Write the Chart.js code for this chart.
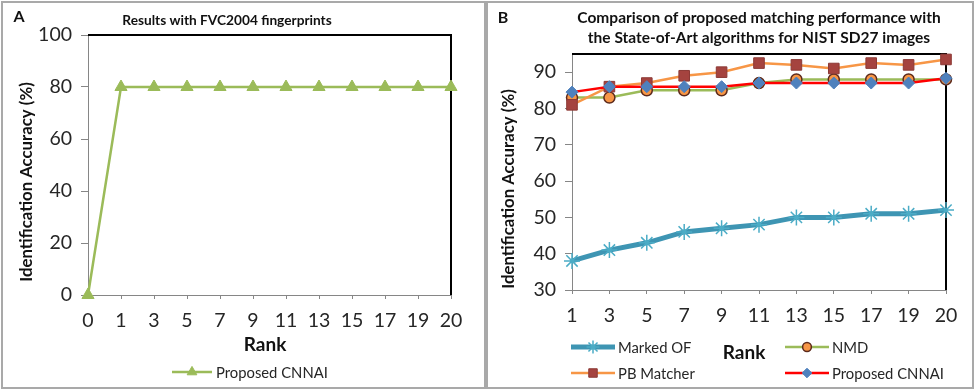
<!DOCTYPE html>
<html>
<head>
<meta charset="utf-8">
<script src="https://cdn.jsdelivr.net/npm/chart.js@4/dist/chart.umd.min.js"></script>
<style>
  html, body { margin: 0; padding: 0; background: #fff; }
  body { width: 976px; height: 391px; position: relative; overflow: hidden; }
  .panel { position: absolute; box-sizing: border-box; border: 2px solid #a9a9a9; background: #fff; }
  #pA { left: 1px; top: 1px; width: 485px; height: 388px; }
  #pB { left: 486px; top: 1px; width: 488px; height: 388px; }
  canvas { position: absolute; left: 0; top: 0; }
</style>
</head>
<body>
<div class="panel" id="pA"><canvas id="cA" width="481" height="384"></canvas></div>
<div class="panel" id="pB"><canvas id="cB" width="484" height="384"></canvas></div>
<script>
// ---------- DATA ----------
const ranksA = ['0', '1', '3', '5', '7', '9', '11', '13', '15', '17', '19', '20'];
const proposedA = [0, 80, 80, 80, 80, 80, 80, 80, 80, 80, 80, 80];
const yTicksA = [0, 20, 40, 60, 80, 100];

const ranksB = ['1', '3', '5', '7', '9', '11', '13', '15', '17', '19', '20'];
const markedOF = [38, 41, 43, 46, 47, 48, 50, 50, 51, 51, 52];
const nmd = [83, 83, 85, 85, 85, 87, 88, 88, 88, 88, 88];
const pbMatcher = [81, 86, 87, 89, 90, 92.5, 92, 91, 92.5, 92, 93.5];
const proposedB = [84.5, 86, 86, 86, 86, 87, 87, 87, 87, 87, 88.3];
const yTicksB = [30, 40, 50, 60, 70, 80, 90];

const titleA = 'Results with FVC2004 fingerprints';
const titleB = ['Comparison of proposed matching performance with', 'the State-of-Art algorithms for NIST SD27 images'];
const yTitle = 'Identification Accuracy (%)';
const xTitle = 'Rank';

// ---------- STYLE ----------
const FONT = 'Lato, "Open Sans", sans-serif';
Chart.defaults.font.family = FONT;
Chart.defaults.color = '#262626';

function drawMarker(ctx, style, x, y, radius, fill, stroke, bw) {
  ctx.save();
  ctx.fillStyle = fill; ctx.strokeStyle = stroke; ctx.lineWidth = bw;
  if (Chart.helpers && Chart.helpers.drawPoint) {
    Chart.helpers.drawPoint(ctx, { pointStyle: style, radius: radius, rotation: 0, borderWidth: bw }, x, y);
  }
  ctx.restore();
}

const decor = {
  id: 'decor',
  beforeDatasetsDraw(chart, args, o) {
    const a = chart.chartArea, ctx = chart.ctx;
    ctx.save();
    ctx.strokeStyle = '#000'; ctx.lineWidth = 2;
    ctx.beginPath();
    ctx.moveTo(a.left, a.top); ctx.lineTo(a.right, a.top); ctx.lineTo(a.right, a.bottom);
    ctx.stroke();
    ctx.restore();
  },
  afterDraw(chart, args, o) {
    const ctx = chart.ctx;
    ctx.save();
    ctx.fillStyle = '#111';
    ctx.font = 'bold 16px ' + FONT;
    ctx.textAlign = 'center'; ctx.textBaseline = 'middle';
    ctx.fillText(o.letter, o.letterX, o.letterY);
    // y title
    ctx.save();
    ctx.translate(o.yTitleX, o.yTitleY);
    ctx.rotate(-Math.PI / 2);
    ctx.font = 'bold 16.8px ' + FONT;
    ctx.fillStyle = '#111';
    ctx.fillText(yTitle, 0, 0);
    ctx.restore();
    // x title
    ctx.font = 'bold 19px ' + FONT;
    ctx.fillText(xTitle, o.xTitleX, o.xTitleY);
    // legend
    ctx.font = '14.8px ' + FONT;
    ctx.textAlign = 'left';
    o.legend.forEach(it => {
      const ds = chart.data.datasets[it.index];
      ctx.save();
      ctx.strokeStyle = ds.borderColor; ctx.lineWidth = ds.borderWidth;
      ctx.beginPath(); ctx.moveTo(it.x1, it.y); ctx.lineTo(it.x2, it.y); ctx.stroke();
      ctx.restore();
      drawMarker(ctx, ds.pointStyle, (it.x1 + it.x2) / 2, it.y, ds.pointRadius * 0.8,
        ds.pointBackgroundColor, ds.pointBorderColor, ds.pointBorderWidth);
      ctx.fillStyle = '#262626';
      ctx.fillText(ds.label, it.tx, it.y + 1);
    });
    ctx.restore();
  }
};

function xScale(labels, height) {
  return {
    type: 'category', labels: labels, offset: false,
    grid: { display: true, drawOnChartArea: false, drawTicks: true, tickLength: 4, color: '#868686' },
    border: { display: true, color: '#868686', width: 1 },
    ticks: { font: { size: 19.5 }, padding: 10, autoSkip: false, maxRotation: 0, color: '#262626' },
    afterFit(s) { s.height = height; s.paddingLeft = 0; s.paddingRight = 0; }
  };
}
function yScale(min, max, tickValues, width) {
  return {
    min: min, max: max,
    grid: { display: true, drawOnChartArea: false, drawTicks: true, tickLength: 7, color: '#868686' },
    border: { display: true, color: '#868686', width: 1 },
    ticks: { font: { size: 19.5 }, padding: 9, color: '#262626' },
    afterBuildTicks(s) { s.ticks = tickValues.map(v => ({ value: v })); },
    afterFit(s) { s.width = width; s.paddingTop = 0; s.paddingBottom = 0; }
  };
}

// ---------- CHART A ----------
new Chart(document.getElementById('cA'), {
  type: 'line',
  data: {
    labels: ranksA,
    datasets: [{
      label: 'Proposed CNNAI', data: proposedA,
      borderColor: '#9BBB59', borderWidth: 2.5,
      pointStyle: 'triangle', pointRadius: 7, pointBackgroundColor: '#9BBB59',
      pointBorderColor: '#9BBB59', pointBorderWidth: 1, tension: 0, clip: false
    }]
  },
  options: {
    responsive: false, animation: false, events: [],
    layout: { padding: { left: 0, right: 33, top: 0, bottom: 0 } },
    scales: { x: xScale(ranksA, 92), y: yScale(0, 100, yTicksA, 85) },
    plugins: {
      legend: { display: false }, tooltip: { enabled: false },
      title: { display: true, text: titleA, fullSize: true, color: '#111',
        font: { size: 13.7, weight: 'bold', lineHeight: '20px' }, padding: { top: 8, bottom: 4 } },
      decor: {
        letter: 'A', letterX: 16, letterY: 14,
        yTitleX: 24, yTitleY: 179,
        xTitleX: 262, xTitleY: 342,
        legend: [{ index: 0, x1: 169, x2: 209, y: 369, tx: 213 }]
      }
    }
  },
  plugins: [decor]
});

// ---------- CHART B ----------
new Chart(document.getElementById('cB'), {
  type: 'line',
  data: {
    labels: ranksB,
    datasets: [
      { label: 'Marked OF', data: markedOF, order: 4,
        borderColor: '#3E95B3', borderWidth: 5,
        pointStyle: 'star', pointRadius: 8, pointBackgroundColor: '#4BACC6',
        pointBorderColor: '#4BACC6', pointBorderWidth: 1.5, tension: 0, clip: false },
      { label: 'NMD', data: nmd, order: 3,
        borderColor: '#9BBB59', borderWidth: 2.5,
        pointStyle: 'circle', pointRadius: 5.5, pointBackgroundColor: '#F79646',
        pointBorderColor: '#5C2A1C', pointBorderWidth: 1.5, tension: 0, clip: false },
      { label: 'PB Matcher', data: pbMatcher, order: 2,
        borderColor: '#F79646', borderWidth: 2.5,
        pointStyle: 'rect', pointRadius: 7.5, pointBackgroundColor: '#A5433F',
        pointBorderColor: '#8C3A36', pointBorderWidth: 1, tension: 0, clip: false },
      { label: 'Proposed CNNAI', data: proposedB, order: 1,
        borderColor: '#FF0000', borderWidth: 2.5,
        pointStyle: 'rectRot', pointRadius: 6, pointBackgroundColor: '#4F81BD',
        pointBorderColor: '#4F81BD', pointBorderWidth: 1, tension: 0, clip: false }
    ]
  },
  options: {
    responsive: false, animation: false, events: [],
    layout: { padding: { left: 0, right: 26, top: 0, bottom: 0 } },
    scales: { x: xScale(ranksB, 97), y: yScale(30, 95, yTicksB, 84) },
    plugins: {
      legend: { display: false }, tooltip: { enabled: false },
      title: { display: true, text: titleB, fullSize: false, color: '#111',
        font: { size: 15.5, weight: 'bold', lineHeight: '20px' }, padding: { top: 5, bottom: 6 } },
      decor: {
        letter: 'B', letterX: 15, letterY: 15,
        yTitleX: 21, yTitleY: 186,
        xTitleX: 256, xTitleY: 350,
        legend: [
          { index: 0, x1: 83, x2: 127, y: 344, tx: 130 },
          { index: 1, x1: 297, x2: 341, y: 344, tx: 344 },
          { index: 2, x1: 83, x2: 127, y: 370, tx: 130 },
          { index: 3, x1: 297, x2: 341, y: 370, tx: 344 }
        ]
      }
    }
  },
  plugins: [decor]
});
</script>
</body>
</html>
